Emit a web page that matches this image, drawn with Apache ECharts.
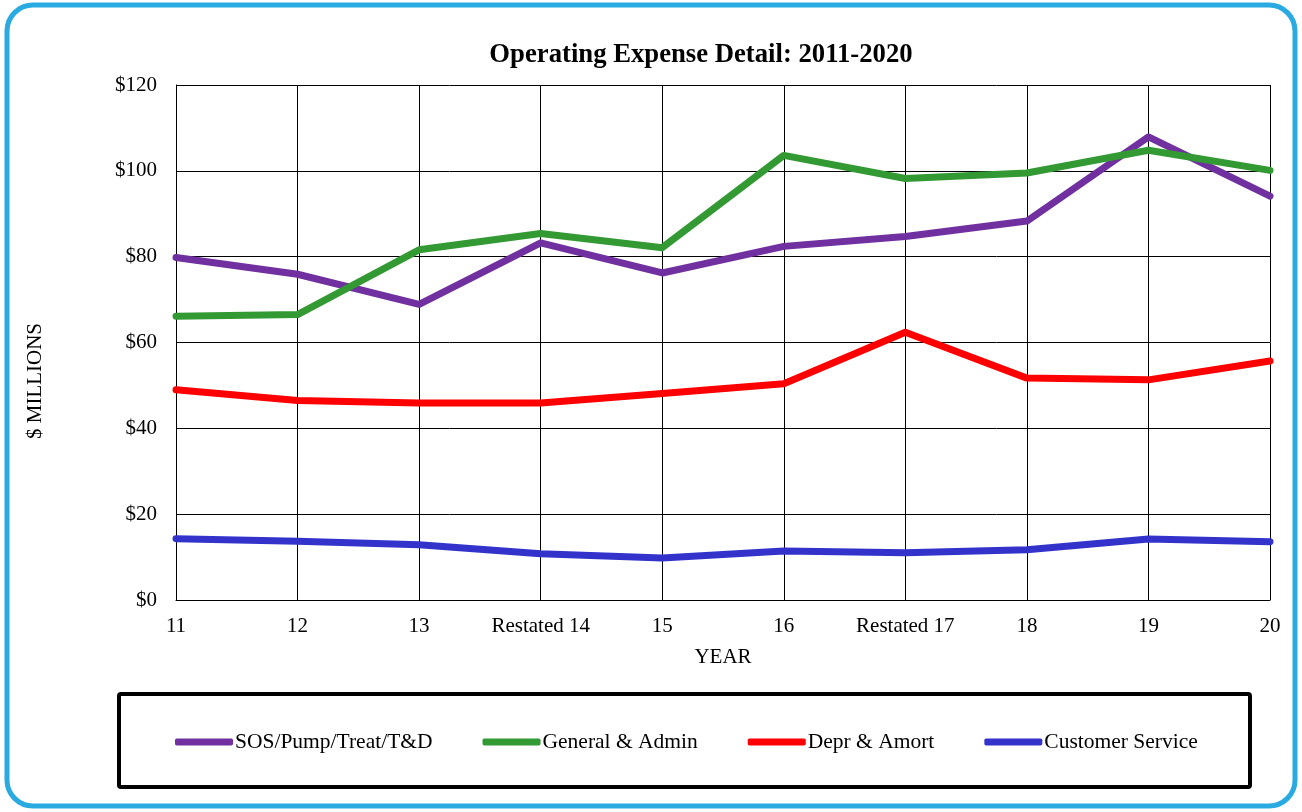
<!DOCTYPE html>
<html><head><meta charset="utf-8">
<script src="https://cdn.jsdelivr.net/npm/echarts@6/dist/echarts.min.js"></script>
<style>html,body{margin:0;padding:0;background:#fff}#c{width:1302px;height:812px}</style>
</head><body><div id="c"></div>
<script>
var categories = ['11','12','13','Restated 14','15','16','Restated 17','18','19','20'];
var sosPump = [79.8, 75.9, 68.9, 83.2, 76.2, 82.4, 84.7, 88.3, 107.9, 94.1];
var genAdmin = [66.1, 66.5, 81.6, 85.4, 82.1, 103.6, 98.2, 99.5, 104.8, 100.1];
var deprAmort = [49.0, 46.5, 45.9, 45.9, 48.1, 50.4, 62.4, 51.7, 51.3, 55.7];
var custService = [14.3, 13.7, 12.9, 10.8, 9.8, 11.4, 11.0, 11.7, 14.2, 13.6];
var yTicks = [0, 20, 40, 60, 80, 100, 120];

var FONT = '"Liberation Serif","Times New Roman",serif';
var chart = echarts.init(document.getElementById('c'));
function mk(name, data, color){
  return {name:name, type:'line', data:data, symbol:'none', smooth:false,
    lineStyle:{color:color, width:7, cap:'round', join:'round'}, itemStyle:{color:color}};
}
chart.setOption({
  animation:false,
  textStyle:{fontFamily:FONT, color:'#000'},
  title:{text:'Operating Expense Detail: 2011-2020', left:696, top:37, textAlign:'center',
    textStyle:{fontFamily:FONT, fontWeight:'bold', fontSize:26.7, color:'#000'}},
  grid:{left:176, right:32, top:85, bottom:212},
  xAxis:{type:'category', data:categories, boundaryGap:false,
    name:'YEAR', nameLocation:'middle', nameGap:47,
    nameTextStyle:{fontFamily:FONT, fontSize:21, color:'#000'},
    axisLine:{lineStyle:{color:'#000', width:1}}, axisTick:{show:false},
    axisLabel:{fontFamily:FONT, fontSize:21, color:'#000', margin:16, interval:0},
    splitLine:{show:true, lineStyle:{color:'#000', width:1}}},
  yAxis:{type:'value', min:yTicks[0], max:yTicks[yTicks.length-1], interval:20,
    axisLine:{show:true, lineStyle:{color:'#000'}}, axisTick:{show:false},
    axisLabel:{fontFamily:FONT, fontSize:21, color:'#000', margin:19,
      formatter:function(v){return '$'+v;}},
    splitLine:{show:true, lineStyle:{color:'#000', width:1}}},
  legend:{left:170, top:726, itemWidth:58, itemHeight:7, itemGap:50,
    icon:'roundRect',
    textStyle:{fontFamily:FONT, fontSize:21.5, color:'#000', padding:[0,0,0,-3]},
    data:['SOS/Pump/Treat/T&D','General & Admin','Depr & Amort','Customer Service']},
  graphic:[
    {type:'rect', shape:{x:7, y:5, width:1288, height:801, r:26},
      style:{fill:'none', stroke:'#29ABE2', lineWidth:5}, z:100},
    {type:'rect', shape:{x:119, y:694, width:1131, height:93, r:2},
      style:{fill:'none', stroke:'#000', lineWidth:4}, z:100},
    {type:'text', x:35, y:381, rotation:Math.PI/2,
      style:{text:'$ MILLIONS', fontFamily:FONT, fontSize:21, fill:'#000',
        textAlign:'center', textVerticalAlign:'middle'}}
  ],
  series:[
    mk('SOS/Pump/Treat/T&D', sosPump, '#7030A0'),
    mk('General & Admin', genAdmin, '#339933'),
    mk('Depr & Amort', deprAmort, '#FF0000'),
    mk('Customer Service', custService, '#3333CC')
  ]
});
</script></body></html>
